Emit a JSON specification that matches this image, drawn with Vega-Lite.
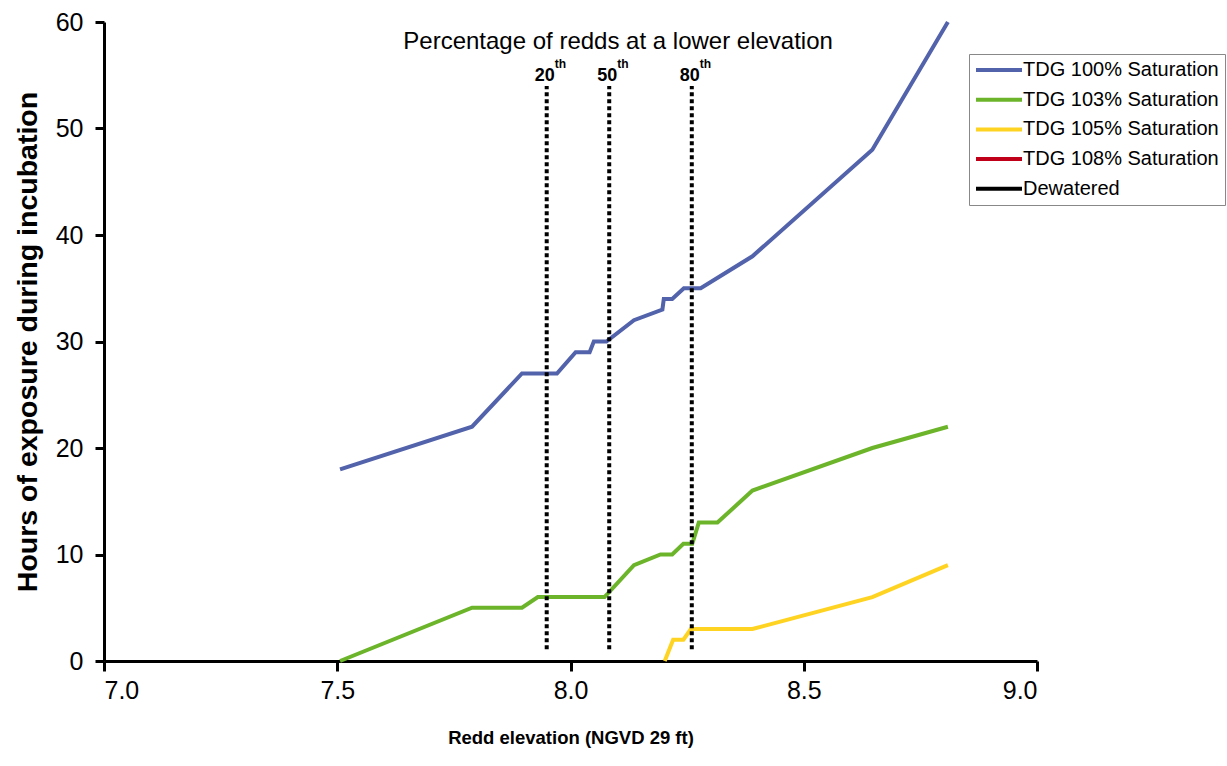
{
  "$schema": "https://vega.github.io/schema/vega-lite/v6.json",
  "width": 933,
  "height": 639,
  "autosize": {"type": "none"},
  "padding": {"left": 104, "top": 22, "right": 190, "bottom": 105},
  "background": "white",
  "config": {
    "font": "Liberation Sans",
    "view": {"stroke": null},
    "axis": {"grid": false}
  },
  "layer": [
    {
      "data": {
        "values": [
          {"series": "TDG 100% Saturation", "elev": 7.506, "hours": 18},
          {"series": "TDG 100% Saturation", "elev": 7.789, "hours": 22},
          {"series": "TDG 100% Saturation", "elev": 7.896, "hours": 27},
          {"series": "TDG 100% Saturation", "elev": 7.971, "hours": 27},
          {"series": "TDG 100% Saturation", "elev": 8.011, "hours": 29},
          {"series": "TDG 100% Saturation", "elev": 8.041, "hours": 29},
          {"series": "TDG 100% Saturation", "elev": 8.05, "hours": 30},
          {"series": "TDG 100% Saturation", "elev": 8.077, "hours": 30},
          {"series": "TDG 100% Saturation", "elev": 8.136, "hours": 32},
          {"series": "TDG 100% Saturation", "elev": 8.197, "hours": 33},
          {"series": "TDG 100% Saturation", "elev": 8.2, "hours": 34},
          {"series": "TDG 100% Saturation", "elev": 8.218, "hours": 34},
          {"series": "TDG 100% Saturation", "elev": 8.243, "hours": 35},
          {"series": "TDG 100% Saturation", "elev": 8.279, "hours": 35},
          {"series": "TDG 100% Saturation", "elev": 8.39, "hours": 38},
          {"series": "TDG 100% Saturation", "elev": 8.647, "hours": 48},
          {"series": "TDG 100% Saturation", "elev": 8.809, "hours": 60},
          {"series": "TDG 103% Saturation", "elev": 7.506, "hours": 0},
          {"series": "TDG 103% Saturation", "elev": 7.789, "hours": 5},
          {"series": "TDG 103% Saturation", "elev": 7.896, "hours": 5},
          {"series": "TDG 103% Saturation", "elev": 7.93, "hours": 6},
          {"series": "TDG 103% Saturation", "elev": 8.073, "hours": 6},
          {"series": "TDG 103% Saturation", "elev": 8.136, "hours": 9},
          {"series": "TDG 103% Saturation", "elev": 8.193, "hours": 10},
          {"series": "TDG 103% Saturation", "elev": 8.218, "hours": 10},
          {"series": "TDG 103% Saturation", "elev": 8.242, "hours": 11},
          {"series": "TDG 103% Saturation", "elev": 8.261, "hours": 11},
          {"series": "TDG 103% Saturation", "elev": 8.275, "hours": 13},
          {"series": "TDG 103% Saturation", "elev": 8.315, "hours": 13},
          {"series": "TDG 103% Saturation", "elev": 8.39, "hours": 16},
          {"series": "TDG 103% Saturation", "elev": 8.647, "hours": 20},
          {"series": "TDG 103% Saturation", "elev": 8.809, "hours": 22},
          {"series": "TDG 105% Saturation", "elev": 8.202, "hours": 0},
          {"series": "TDG 105% Saturation", "elev": 8.22, "hours": 2},
          {"series": "TDG 105% Saturation", "elev": 8.242, "hours": 2},
          {"series": "TDG 105% Saturation", "elev": 8.258, "hours": 3},
          {"series": "TDG 105% Saturation", "elev": 8.39, "hours": 3},
          {"series": "TDG 105% Saturation", "elev": 8.647, "hours": 6},
          {"series": "TDG 105% Saturation", "elev": 8.809, "hours": 9}
        ]
      },
      "mark": {"type": "line", "strokeWidth": 4},
      "encoding": {
        "x": {
          "field": "elev",
          "type": "quantitative",
          "scale": {"domain": [7, 9], "nice": false, "zero": false},
          "axis": {
            "title": "Redd elevation (NGVD 29 ft)",
            "values": [7, 7.5, 8, 8.5, 9],
            "format": ".1f",
            "domainColor": "black",
            "domainWidth": 3,
            "tickColor": "black",
            "tickWidth": 3,
            "tickSize": 10,
            "labelFontSize": 25,
            "labelColor": "black",
            "labelPadding": 7,
            "titleFontSize": 18.5,
            "titleFontWeight": "bold",
            "titleColor": "black",
            "titlePadding": 25
          }
        },
        "y": {
          "field": "hours",
          "type": "quantitative",
          "scale": {"domain": [0, 60], "nice": false},
          "axis": {
            "title": "Hours of exposure during incubation",
            "values": [0, 10, 20, 30, 40, 50, 60],
            "domainColor": "black",
            "domainWidth": 3,
            "tickColor": "black",
            "tickWidth": 3,
            "tickSize": 9,
            "labelFontSize": 25,
            "labelColor": "black",
            "labelPadding": 12,
            "titleFontSize": 28.5,
            "titleFontWeight": "bold",
            "titleColor": "black",
            "titlePadding": 13
          }
        },
        "color": {
          "field": "series",
          "type": "nominal",
          "scale": {
            "domain": ["TDG 100% Saturation", "TDG 103% Saturation", "TDG 105% Saturation", "TDG 108% Saturation", "Dewatered"],
            "range": ["#5262AB", "#6CB52A", "#FFD322", "#C00018", "#000000"]
          },
          "legend": {
            "title": null,
            "orient": "none",
            "legendX": 865,
            "legendY": 32,
            "symbolType": "M-2.875,0H2.875",
            "symbolSize": 256,
            "symbolStrokeWidth": 4,
            "symbolOffset": 14,
            "labelFontSize": 20,
            "labelColor": "black",
            "labelOffset": 14,
            "labelLimit": 300,
            "rowPadding": 9.7,
            "strokeColor": "#888888",
            "fillColor": "white",
            "padding": 6
          }
        }
      }
    },
    {
      "data": {
        "values": [
          {"pct": "20", "elev": 7.949},
          {"pct": "50", "elev": 8.083},
          {"pct": "80", "elev": 8.26}
        ]
      },
      "layer": [
        {
          "mark": {"type": "rule", "color": "black", "strokeWidth": 4, "strokeDash": [4, 3]},
          "encoding": {
            "x": {"field": "elev", "type": "quantitative"},
            "y": {"datum": 1.1},
            "y2": {"datum": 54}
          }
        },
        {
          "mark": {"type": "text", "font": "Liberation Sans", "fontWeight": "bold", "fontSize": 18, "align": "center", "baseline": "alphabetic", "dx": -2, "color": "black"},
          "encoding": {
            "x": {"field": "elev", "type": "quantitative"},
            "y": {"datum": 54.5},
            "text": {"field": "pct"}
          }
        },
        {
          "mark": {"type": "text", "font": "Liberation Sans", "fontWeight": "bold", "fontSize": 12, "align": "left", "baseline": "alphabetic", "dx": 8, "dy": -13, "color": "black"},
          "encoding": {
            "x": {"field": "elev", "type": "quantitative"},
            "y": {"datum": 54.5},
            "text": {"value": "th"}
          }
        }
      ]
    },
    {
      "data": {"values": [{"label": "Percentage of redds at a lower elevation"}]},
      "mark": {"type": "text", "font": "Liberation Sans", "fontSize": 24, "align": "center", "baseline": "alphabetic", "color": "black"},
      "encoding": {
        "x": {"datum": 8.102},
        "y": {"datum": 57.5},
        "text": {"field": "label"}
      }
    }
  ]
}
